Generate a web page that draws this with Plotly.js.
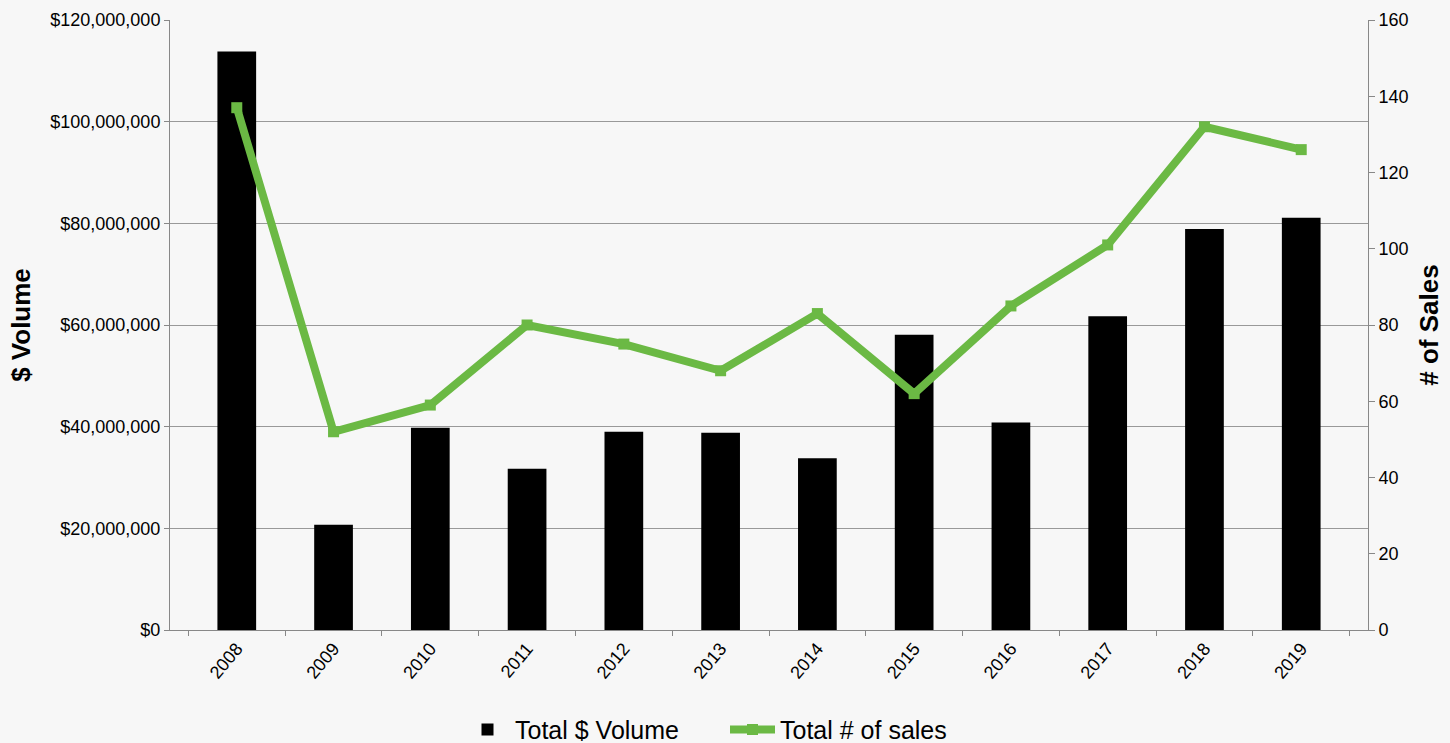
<!DOCTYPE html>
<html><head><meta charset="utf-8">
<script src="https://cdn.plot.ly/plotly-3.0.1.min.js"></script>
<style>html,body{margin:0;padding:0;background:#f7f7f7;}</style>
</head><body>
<div id="chart" style="width:1450px;height:743px;"></div>
<script>
const years = ['2008','2009','2010','2011','2012','2013','2014','2015','2016','2017','2018','2019'];
const volume = [113800000, 20700000, 39800000, 31700000, 39000000, 38800000, 33800000, 58100000, 40800000, 61700000, 78900000, 81100000];
const sales = [137, 52, 59, 80, 75, 68, 83, 62, 85, 101, 132, 126];
const leftTicks = [0, 20000000, 40000000, 60000000, 80000000, 100000000, 120000000];
const leftTickText = ['$0','$20,000,000','$40,000,000','$60,000,000','$80,000,000','$100,000,000','$120,000,000'];

const traces = [
  {type:'bar', x:years, y:volume, name:'Total $ Volume', marker:{color:'#000000'}, width:0.4},
  {type:'scatter', mode:'lines+markers', x:years, y:sales, name:'Total # of sales', yaxis:'y2',
   line:{color:'#6bb944', width:8}, marker:{color:'#6bb944', symbol:'square', size:11}}
];
const layout = {
  width:1450, height:743,
  paper_bgcolor:'#f7f7f7', plot_bgcolor:'#f7f7f7',
  margin:{l:170, r:82, t:20, b:113},
  font:{family:'Liberation Sans, Arial, sans-serif', color:'#000', size:18},
  showlegend:true,
  legend:{orientation:'h', x:0.5, xref:'container', xanchor:'center', yref:'container', y:0.018, yanchor:'middle',
    font:{size:25}, itemwidth:45, entrywidth:205, entrywidthmode:'pixels', bgcolor:'rgba(0,0,0,0)'},
  bargap:0.6,
  xaxis:{type:'category', tickangle:-50, showline:true, linecolor:'#888', ticks:'outside', tickcolor:'#888',
    ticklen:5, showgrid:false, tickfont:{size:18}, tickson:'boundaries', automargin:false},
  yaxis:{range:[0,120000000], tickvals:leftTicks, ticktext:leftTickText, showline:true, linecolor:'#888',
    ticks:'outside', tickcolor:'#888', ticklen:5, gridcolor:'#999', gridwidth:1, zeroline:false, automargin:false,
    title:{text:'$ Volume', font:{size:26, weight:'bold'}, standoff:12}, tickfont:{size:18}},
  yaxis2:{range:[0,160], dtick:20, overlaying:'y', side:'right', showline:true, linecolor:'#888', automargin:false,
    ticks:'outside', tickcolor:'#888', ticklen:6, showgrid:false, zeroline:false,
    title:{text:'# of Sales', font:{size:26, weight:'bold'}, standoff:12}, tickfont:{size:18}}
};
Plotly.newPlot('chart', traces, layout, {displayModeBar:false});
</script>
</body></html>
